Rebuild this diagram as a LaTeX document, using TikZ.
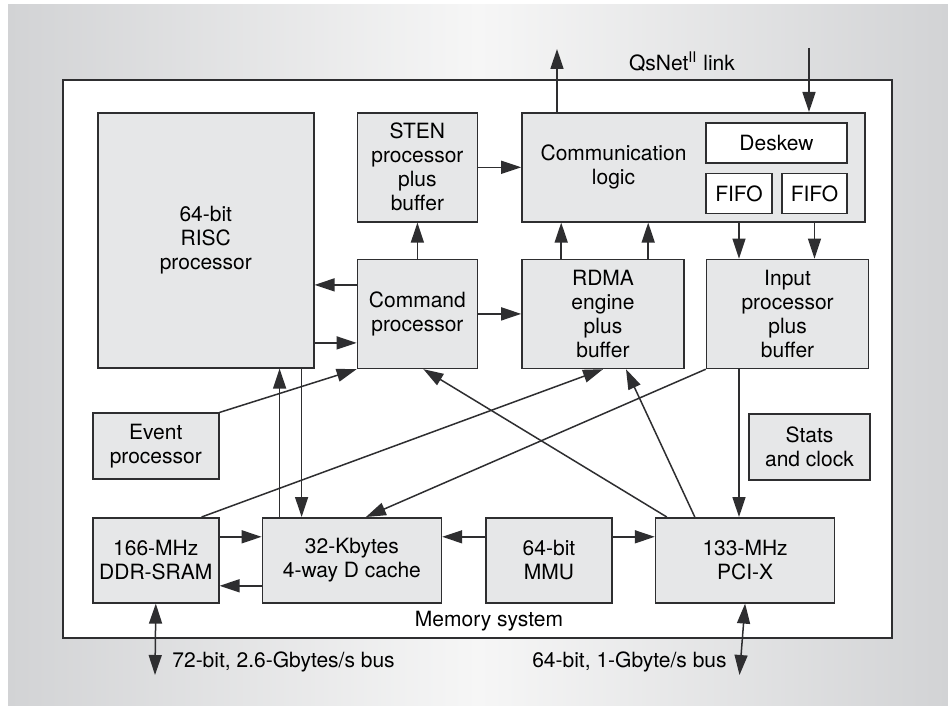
\documentclass[tikz,border=0pt]{standalone}
\usepackage{fontspec}
\setmainfont{TeX Gyre Heros}
\usetikzlibrary{arrows.meta,positioning}
\definecolor{bgedge}{HTML}{D2D3D5}
\definecolor{bgmid}{HTML}{F6F6F6}
\definecolor{blockfill}{HTML}{E6E7E8}
\definecolor{edge}{HTML}{2E2E30}

\begin{document}
\begin{tikzpicture}[x=0.5pt, y=-0.5pt, font=\fontsize{10.5}{12}\selectfont,
  box/.style={draw=edge, line width=0.8pt, fill=blockfill, align=center, inner sep=0pt},
  inbox/.style={draw=edge, line width=0.8pt, fill=white, minimum height=20pt, inner sep=0pt},
  arr/.style={-{Triangle[length=10pt,width=6.5pt]}, line width=0.75pt, draw=edge},
  dbl/.style={{Triangle[length=10pt,width=6.5pt]}-{Triangle[length=10pt,width=6.5pt]}, line width=0.75pt, draw=edge}]
\useasboundingbox (0,0) rectangle (948,706);
\fill[white] (0,0) rectangle (948,706);
\shade[left color=bgedge, right color=bgedge, middle color=bgmid] (8,5) rectangle (948,706);
\draw[edge, line width=1pt, fill=white] (63,80) rectangle (892,638);
% processors
\node[box, minimum width=108pt, minimum height=127.5pt, anchor=north west] (risc) at (97,112) {64-bit\\RISC\\processor};
\node[box, minimum width=60pt, minimum height=54.5pt, right=21pt of risc.north east, anchor=north west] (sten) {STEN\\processor\\plus\\buffer};
\node[box, minimum width=60pt, minimum height=54.5pt, below=18pt of sten] (cmd) {Command\\processor};
\node[box, minimum width=171.5pt, minimum height=54.5pt, right=21.5pt of sten.north east, anchor=north west] (comm) {};
\node[inner sep=0pt, align=center, anchor=west] (commtext) at ([xshift=9.5pt]comm.west) {Communication\\logic};
\node[inbox, minimum width=70.5pt, below left=5pt and 9pt of comm.north east] (deskew) {Deskew};
\node[inbox, minimum width=33pt, below=4.5pt of deskew.south west, anchor=north west] (fifoa) {FIFO};
\node[inbox, minimum width=32.5pt, below=4.5pt of deskew.south east, anchor=north east] (fifob) {FIFO};
\node[box, minimum width=81pt, minimum height=54.5pt, below=18pt of comm.south west, anchor=north west] (rdma) {RDMA\\engine\\plus\\buffer};
\node[box, minimum width=81pt, minimum height=54.5pt, right=10.5pt of rdma.north east, anchor=north west] (input) {Input\\processor\\plus\\buffer};
% memory system
\node[box, minimum width=63pt, minimum height=42.5pt, anchor=north west] (ddr) at (92,517) {166-MHz\\DDR-SRAM};
\node[box, minimum width=89.5pt, minimum height=42.5pt, right=21pt of ddr] (cache) {32-Kbytes\\4-way D cache};
\node[box, minimum width=63pt, minimum height=42.5pt, right=21.5pt of cache] (mmu) {64-bit\\MMU};
\node[box, minimum width=89.5pt, minimum height=42.5pt, right=21pt of mmu] (pci) {133-MHz\\PCI-X};
\node[box, minimum width=63pt, minimum height=33pt, above=18.5pt of ddr] (event) {Event\\processor};
\node[box, minimum width=60.5pt, minimum height=33pt] (stats) at (809.5,447) {Stats\\and clock};
\node[inner sep=0pt] (mem) at (489,621) {Memory system};
\node[inner sep=0pt, anchor=west] (ddrbus) at (172,662) {72-bit, 2.6-Gbytes/s bus};
\node[inner sep=0pt, anchor=east] (pcibus) at (727,662) {64-bit, 1-Gbyte/s bus};
\node[inner sep=0pt] (link) at (682,62) {QsNet\textsuperscript{II} link};
\coordinate (linkout) at (557,49);
\coordinate (linkin) at (809,48);
\coordinate (ddrend) at (155,675);
\coordinate (pciend) at (739.5,675);
% connectors
\draw[arr] (cmd) -- (sten);
\draw[arr] (sten) -- (comm);
\draw[arr] (cmd) -- (rdma);
\draw[arr] ([yshift=14.5pt]cmd.west) -- ([yshift=14.5pt]cmd.west -| risc.east);
\draw[arr] ([yshift=-14.5pt]cmd.west -| risc.east) -- ([yshift=-14.5pt]cmd.west);
\draw[arr] ([xshift=20pt]rdma.north west) -- ([xshift=20pt]rdma.north west |- comm.south);
\draw[arr] ([xshift=63.5pt]rdma.north west) -- ([xshift=63.5pt]rdma.north west |- comm.south);
\draw[arr] (fifoa |- comm.south) -- (fifoa |- input.north);
\draw[arr] (fifob |- comm.south) -- (fifob |- input.north);
\draw[arr] (comm.north -| linkout) -- (linkout);
\draw[arr] (linkin) -- (linkin |- comm.north);
\draw[arr] (fifoa |- input.south) -- (fifoa |- pci.north);
\draw[arr] ([xshift=9pt]cache.north west) -- ([xshift=9pt]cache.north west |- risc.south);
\draw[arr] ([xshift=20pt]cache.north west |- risc.south) -- ([xshift=20pt]cache.north west);
\draw[arr] ([yshift=11.75pt]ddr.east) -- ([yshift=11.75pt]ddr.east -| cache.west);
\draw[arr] ([yshift=-12.75pt]cache.west) -- ([yshift=-12.75pt]cache.west -| ddr.east);
\draw[arr] ([yshift=11.75pt]mmu.west) -- ([yshift=11.75pt]mmu.west -| cache.east);
\draw[arr] ([yshift=11.75pt]mmu.east) -- ([yshift=11.75pt]mmu.east -| pci.west);
\draw[arr] (event.north east) -- (cmd.south west);
\draw[arr] ([xshift=-9pt]ddr.north east) -- (rdma.south);
\draw[arr] (input.south west) -- ([xshift=7pt]cache.north);
\draw[arr] ([xshift=6pt]pci.north west) -- ([xshift=3pt]cmd.south);
\draw[arr] ([xshift=20pt]pci.north west) -- ([xshift=11.5pt]rdma.south);
\draw[dbl] (ddr.south) -- (ddrend);
\draw[dbl] (pci.south) -- (pciend);
\end{tikzpicture}
\end{document}
